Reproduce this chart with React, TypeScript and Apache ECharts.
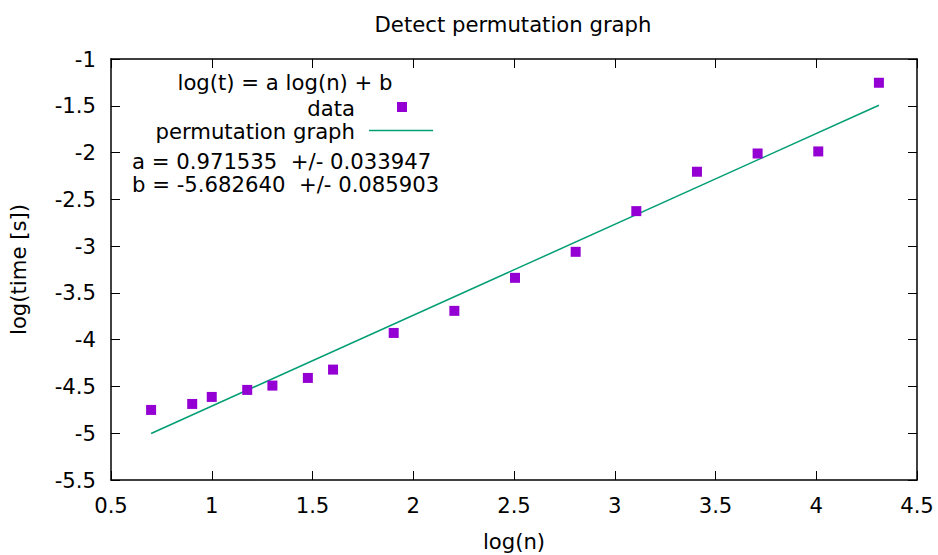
import React, { useEffect, useRef } from "react";
import * as echarts from "echarts";

const logN = [0.699, 0.903, 1.0, 1.176, 1.301, 1.477, 1.602, 1.903, 2.204, 2.505, 2.806, 3.107, 3.408, 3.709, 4.01, 4.311];
const logT = [-4.751, -4.687, -4.612, -4.537, -4.491, -4.409, -4.32, -3.928, -3.692, -3.339, -3.061, -2.626, -2.205, -2.01, -1.988, -1.254];
const fitX = [0.699, 4.311];
const fitY = [-5.003, -1.494];

const titleText = "Detect permutation graph";
const xName = "log(n)";
const yName = "log(time [s])";
const legendTitle = "log(t) = a log(n) + b";
const dataName = "data";
const fitName = "permutation graph";
const paramA = "a = 0.971535  +/- 0.033947";
const paramB = "b = -5.682640  +/- 0.085903";

const FONT = "DejaVu Sans";
const FS = 21.2;
const PURPLE = "#9400D3";
const GREEN = "#009E73";

export default function App() {
  const ref = useRef<HTMLDivElement>(null);
  useEffect(() => {
    if (!ref.current) return;
    const chart = echarts.init(ref.current, null, { renderer: "svg" });
    const axisCommon = {
      type: "value" as const,
      interval: 0.5,
      splitLine: { show: false },
      axisLine: { show: true, onZero: false, lineStyle: { color: "#000", width: 1.5 } },
      axisTick: { show: true, inside: true, length: 9, lineStyle: { color: "#000", width: 1 } },
    };
    chart.setOption({
      animation: false,
      backgroundColor: "#fff",
      textStyle: { fontFamily: FONT },
      title: {
        text: titleText,
        left: 508,
        textAlign: "center",
        top: 9,
        textStyle: { fontFamily: FONT, fontSize: FS, fontWeight: "normal", color: "#000" },
      },
      grid: { left: 111, right: 21, top: 59, bottom: 75, containLabel: false, outerBoundsMode: "none" },
      xAxis: [
        {
          ...axisCommon,
          min: 0.5,
          max: 4.5,
          position: "bottom",
          name: xName,
          nameLocation: "middle",
          nameGap: 51,
          nameTextStyle: { fontFamily: FONT, fontSize: FS, color: "#000" },
          axisLabel: { fontFamily: FONT, fontSize: FS, color: "#000", margin: 15 },
        },
        {
          ...axisCommon,
          min: 0.5,
          max: 4.5,
          position: "top",
          axisLabel: { show: false },
        },
      ],
      yAxis: [
        {
          ...axisCommon,
          min: -5.5,
          max: -1,
          position: "left",
          name: yName,
          nameLocation: "middle",
          nameGap: 82,
          nameRotate: 90,
          nameTextStyle: { fontFamily: FONT, fontSize: FS, color: "#000" },
          axisLabel: { fontFamily: FONT, fontSize: FS, color: "#000", margin: 15 },
        },
        {
          ...axisCommon,
          min: -5.5,
          max: -1,
          position: "right",
          axisLabel: { show: false },
        },
      ],
      series: [
        {
          name: fitName,
          type: "line",
          data: fitX.map((x, i) => [x, fitY[i]]),
          showSymbol: false,
          symbol: "none",
          lineStyle: { color: GREEN, width: 1.5 },
          z: 2,
        },
        {
          name: dataName,
          type: "scatter",
          data: logN.map((x, i) => [x, logT[i]]),
          symbol: "rect",
          symbolSize: 10,
          itemStyle: { color: PURPLE, opacity: 1 },
          z: 3,
        },
      ],
      graphic: [
        {
          type: "text",
          x: 285,
          y: 82,
          style: { text: legendTitle, font: `${FS}px "${FONT}"`, fill: "#000", align: "center", verticalAlign: "middle" },
        },
        {
          type: "text",
          x: 355,
          y: 108,
          style: { text: dataName, font: `${FS}px "${FONT}"`, fill: "#000", align: "right", verticalAlign: "middle" },
        },
        {
          type: "rect",
          shape: { x: 397, y: 102, width: 10, height: 10 },
          style: { fill: PURPLE },
        },
        {
          type: "text",
          x: 355,
          y: 131.5,
          style: { text: fitName, font: `${FS}px "${FONT}"`, fill: "#000", align: "right", verticalAlign: "middle" },
        },
        {
          type: "line",
          shape: { x1: 369, y1: 130.5, x2: 433, y2: 130.5 },
          style: { stroke: GREEN, lineWidth: 1.5 },
        },
        {
          type: "text",
          x: 132,
          y: 161.5,
          style: { text: paramA, font: `${FS}px "${FONT}"`, fill: "#000", align: "left", verticalAlign: "middle" },
        },
        {
          type: "text",
          x: 132,
          y: 184.5,
          style: { text: paramB, font: `${FS}px "${FONT}"`, fill: "#000", align: "left", verticalAlign: "middle" },
        },
      ],
    });
    return () => chart.dispose();
  }, []);
  return (
    <div
      ref={ref}
      style={{ position: "absolute", left: 0, top: 0, width: 938, height: 555, background: "#fff" }}
    />
  );
}
